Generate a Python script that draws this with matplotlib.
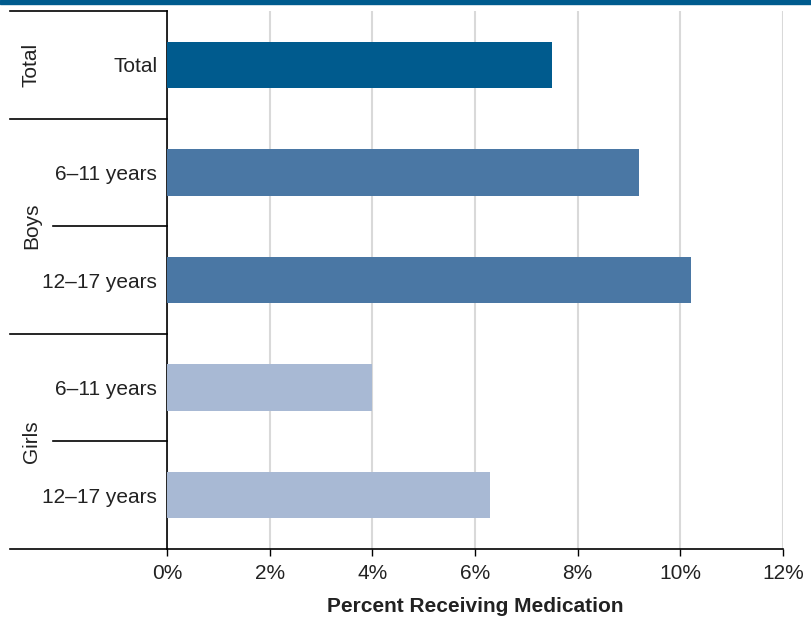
import matplotlib.pyplot as plt
from matplotlib.patches import Rectangle
import matplotlib.transforms as mtransforms

# data
groups = ["Total", "Boys", "Girls"]
group_centers = [0, 1.5, 3.5]
labels = ["Total", "6\u201311 years", "12\u201317 years", "6\u201311 years", "12\u201317 years"]
values = [7.5, 9.2, 10.2, 4.0, 6.3]
colors = ["#005b8e", "#4a77a4", "#4a77a4", "#a8b9d4", "#a8b9d4"]
xticks = [0, 2, 4, 6, 8, 10, 12]

plt.rcParams['font.family'] = ['Liberation Sans', 'DejaVu Sans']

fig = plt.figure(figsize=(8.11, 6.21), dpi=100)
ax = fig.add_axes([167 / 811, 72 / 621, 616 / 811, 538 / 621])

pos = list(range(len(values)))
ax.barh(pos, values, height=0.43, color=colors, zorder=3)
ax.set_ylim(4.5, -0.5)
ax.set_xlim(0, 12)

ax.set_xticks(xticks)
ax.set_xticklabels([f"{t}%" for t in xticks], fontsize=15, color="#222222")
ax.tick_params(axis="x", length=5, width=1, color="black", pad=6)
ax.set_yticks(pos)
ax.set_yticklabels(labels, fontsize=15, color="#222222")
ax.tick_params(axis="y", length=0, pad=7)

ax.grid(axis="x", color="#d9d9d9", lw=1.5, zorder=0)
for s in ["top", "right"]:
    ax.spines[s].set_visible(False)
ax.spines["left"].set_color("black")
ax.spines["bottom"].set_color("black")
ax.spines["left"].set_linewidth(1.2)
ax.spines["bottom"].set_linewidth(1.2)

ax.set_xlabel("Percent Receiving Medication", fontsize=15, fontweight="bold",
              color="#222222", labelpad=10)

# group separators
tr = mtransforms.blended_transform_factory(ax.transAxes, ax.transData)
full_x = -0.255
short_x = -0.185
for y, x0 in [(-0.5, full_x), (0.5, full_x), (1.5, short_x), (2.5, full_x), (3.5, short_x), (4.5, full_x)]:
    ax.plot([x0, 0], [y, y], transform=tr, color="black", lw=1.2, clip_on=False)

# group labels
for name, yc in zip(groups, group_centers):
    ax.text(-0.22, yc, name, transform=tr, rotation=90, ha="center", va="center",
            fontsize=15, color="#222222")

# top band
fig.patches.append(Rectangle((0, 1 - 4 / 621), 1, 4 / 621, transform=fig.transFigure,
                             color="#005b8e", zorder=0))

fig.savefig("out.png", dpi=100)
